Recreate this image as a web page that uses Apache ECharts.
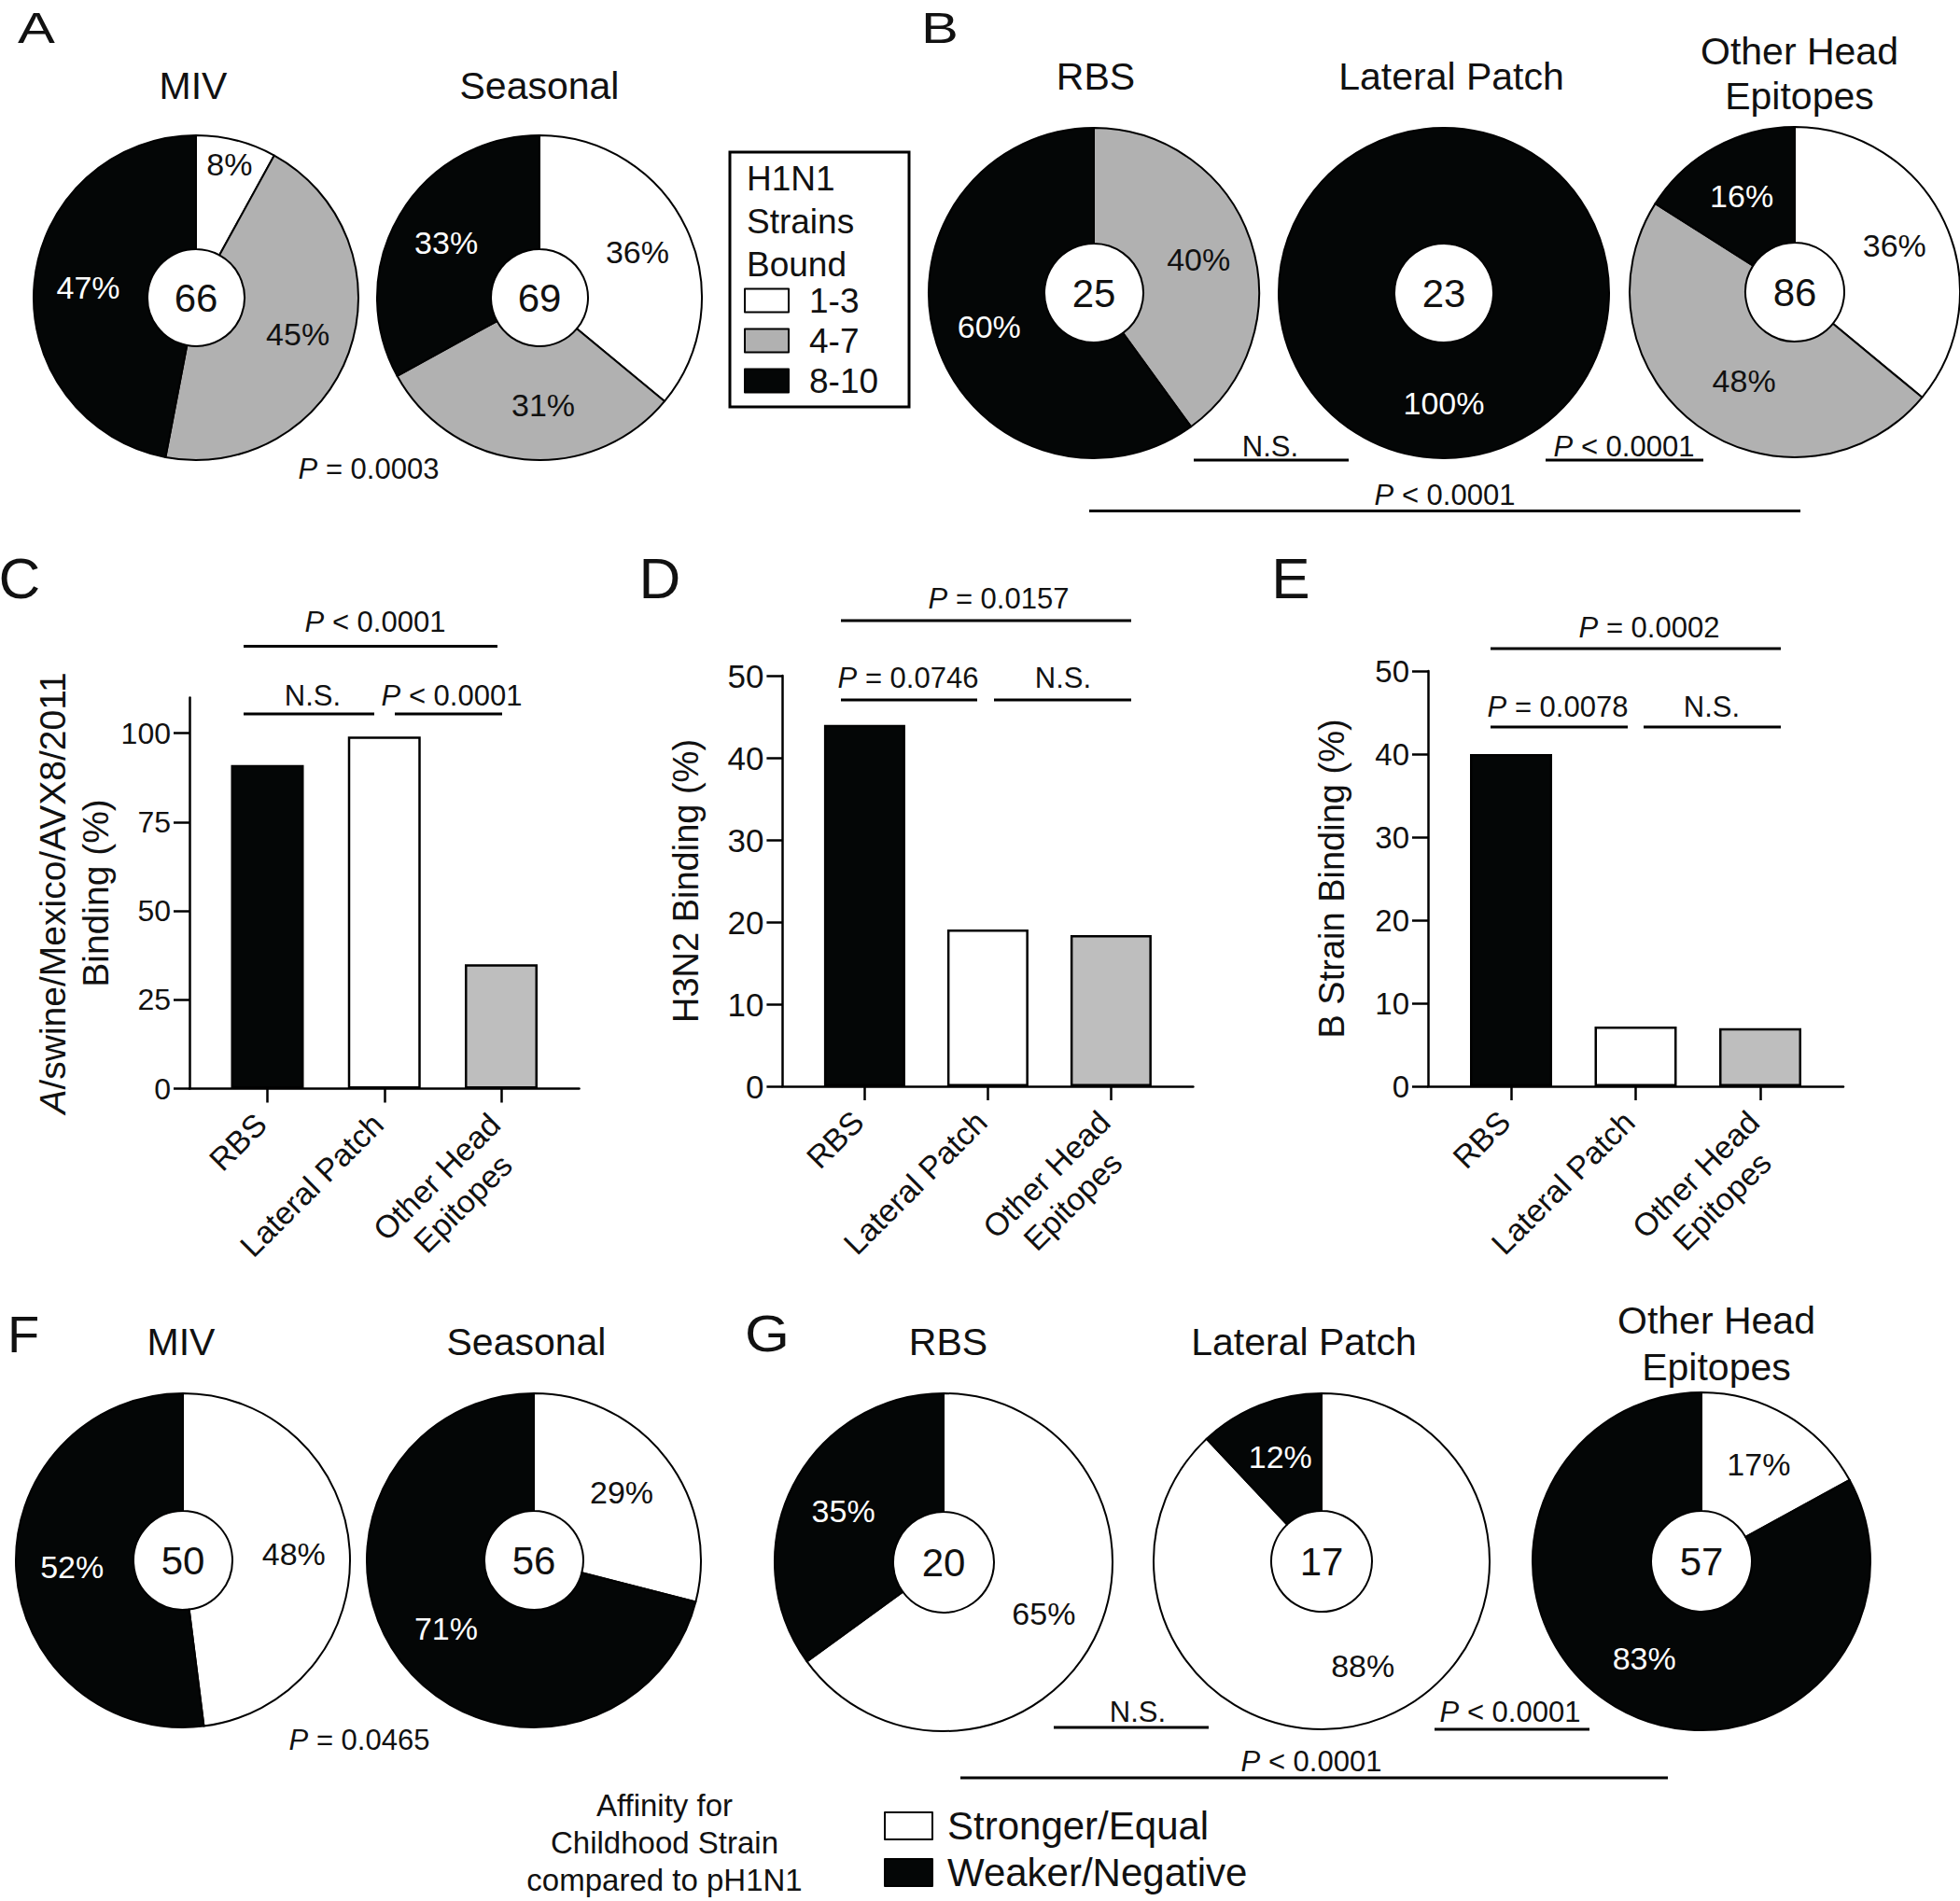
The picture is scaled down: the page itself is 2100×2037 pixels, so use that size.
<!DOCTYPE html>
<html><head><meta charset="utf-8">
<script src="https://cdn.jsdelivr.net/npm/echarts@6/dist/echarts.min.js"></script>
<style>html,body{margin:0;padding:0;background:#fff}#c{width:2100px;height:2037px}</style>
</head><body><div id="c"></div>
<script>
// ---------------- data ----------------
const strainBins = ['1-3', '4-7', '8-10'];
const panelATitles = ['MIV', 'Seasonal'];
const panelAN = [66, 69];
const panelAMIV = [8, 45, 47];
const panelASeasonal = [36, 31, 33];
const panelAPval = 'P = 0.0003';

const panelBTitles = ['RBS', 'Lateral Patch', 'Other Head\nEpitopes'];
const panelBN = [25, 23, 86];
const panelBRBS = [0, 40, 60];
const panelBLateral = [0, 0, 100];
const panelBOther = [36, 48, 16];

const affinityCats = ['Stronger/Equal', 'Weaker/Negative'];
const panelFTitles = ['MIV', 'Seasonal'];
const panelFN = [50, 56];
const panelFMIV = [48, 52];
const panelFSeasonal = [29, 71];
const panelFPval = 'P = 0.0465';

const panelGTitles = ['RBS', 'Lateral Patch', 'Other Head\nEpitopes'];
const panelGN = [20, 17, 57];
const panelGRBS = [65, 35];
const panelGLateral = [88, 12];
const panelGOther = [17, 83];

const barCategories = ['RBS', 'Lateral Patch', 'Other Head\nEpitopes'];
const swineBinding = [91, 99, 35];
const h3n2Binding = [44, 19.1, 18.4];
const bStrainBinding = [40, 7.2, 7.0];
const swineTicks = [0, 25, 50, 75, 100];
const h3n2Ticks = [0, 10, 20, 30, 40, 50];
const bStrainTicks = [0, 10, 20, 30, 40, 50];
const barYNames = ['{i|A}/swine/Mexico/AVX8/2011\nBinding (%)', 'H3N2 Binding (%)', 'B Strain Binding (%)'];

// ---------------- styles / layout ----------------
const FONT = "'Liberation Sans', Arial, Helvetica, sans-serif";
const BLACK = '#040606', WHITE = '#ffffff', PIE_GREY = '#b1b1b1', BAR_GREY = '#bebebe', INK = '#111111';
const strainColors = [WHITE, PIE_GREY, BLACK];
const affinityColors = [WHITE, BLACK];
const barColors = [BLACK, WHITE, BAR_GREY];

// labelOpts: optional per-slice label style tweaks (placement nudges only)
const pies = [
  {pct: panelAMIV, n: panelAN[0], title: panelATitles[0], names: strainBins, colors: strainColors, c: [210, 319], r: [52, 174], t: [207, 92], lh: 46,
    labelOpts: {0: {formatter: '{c}%\n ', lineHeight: 62, padding: [0, 0, 0, 14]}}},
  {pct: panelASeasonal, n: panelAN[1], title: panelATitles[1], names: strainBins, colors: strainColors, c: [578, 319], r: [52, 174], t: [578, 92], lh: 46,
    labelOpts: {1: {padding: [0, 0, 0, 30]}}},
  {pct: panelBRBS, n: panelBN[0], title: panelBTitles[0], names: strainBins, colors: strainColors, c: [1172, 314], r: [53, 177], t: [1174, 82], lh: 46},
  {pct: panelBLateral, n: panelBN[1], title: panelBTitles[1], names: strainBins, colors: strainColors, c: [1547, 314], r: [53, 177], t: [1555, 82], lh: 46},
  {pct: panelBOther, n: panelBN[2], title: panelBTitles[2], names: strainBins, colors: strainColors, c: [1923, 313], r: [53, 177], t: [1928, 79], lh: 48,
    labelOpts: {1: {padding: [0, 0, 0, 30]}}},
  {pct: panelFMIV, n: panelFN[0], title: panelFTitles[0], names: affinityCats, colors: affinityColors, c: [196, 1672], r: [53, 179], t: [194, 1438], lh: 50},
  {pct: panelFSeasonal, n: panelFN[1], title: panelFTitles[1], names: affinityCats, colors: affinityColors, c: [572, 1672], r: [53, 179], t: [564, 1438], lh: 50},
  {pct: panelGRBS, n: panelGN[0], title: panelGTitles[0], names: affinityCats, colors: affinityColors, c: [1011, 1674], r: [54, 181], t: [1016, 1438], lh: 50},
  {pct: panelGLateral, n: panelGN[1], title: panelGTitles[1], names: affinityCats, colors: affinityColors, c: [1416, 1673], r: [54, 180], t: [1397, 1438], lh: 50},
  {pct: panelGOther, n: panelGN[2], title: panelGTitles[2], names: affinityCats, colors: affinityColors, c: [1823, 1673], r: [54, 181], t: [1839, 1440], lh: 50}
];

const bars = [
  {vals: swineBinding, ticks: swineTicks, name: barYNames[0], left: 203, top: 747.4, width: 417.5, height: 419.1, max: 110, barWidth: 78, tickFont: 32, nameGap: 71, nameFont: 39},
  {vals: h3n2Binding, ticks: h3n2Ticks, name: barYNames[1], left: 838.4, top: 724, width: 440, height: 440, max: 50, barWidth: 87, tickFont: 35, nameGap: 80, nameFont: 38},
  {vals: bStrainBinding, ticks: bStrainTicks, name: barYNames[2], left: 1530, top: 719, width: 445, height: 445, max: 50, barWidth: 88, tickFont: 33, nameGap: 80, nameFont: 38}
];

// [text, textX, textY, lineX1, lineX2, lineY]
const sigMarks = [
  [panelAPval, 395, 502],
  ['N.S.', 1361, 478, 1279, 1445, 493],
  ['P < 0.0001', 1740, 478, 1656, 1825, 493],
  ['P < 0.0001', 1548, 530, 1167, 1929, 547.5],
  ['P < 0.0001', 402, 666, 261, 533, 692.5],
  ['N.S.', 335, 745, 261, 401, 765],
  ['P < 0.0001', 484, 745, 423, 538, 765],
  ['P = 0.0157', 1070, 641, 901, 1212, 665],
  ['P = 0.0746', 973, 726, 901, 1047, 750],
  ['N.S.', 1139, 726, 1065, 1212, 750],
  ['P = 0.0002', 1767, 672, 1597, 1908, 695],
  ['P = 0.0078', 1669, 757, 1597, 1744, 779],
  ['N.S.', 1834, 757, 1761, 1908, 779],
  [panelFPval, 385, 1864],
  ['N.S.', 1219, 1834, 1129, 1295, 1851],
  ['P < 0.0001', 1618, 1834, 1537, 1703, 1853],
  ['P < 0.0001', 1405, 1887, 1029, 1787, 1905]
];

// [letter, x, y, fontSize, scaleX]
const panelLetters = [
  ['A', 39, 30, 46, 1.3], ['B', 1007, 30, 46, 1.3],
  ['C', 21, 619, 62, 1], ['D', 707, 619, 62, 1], ['E', 1383, 619, 62, 1],
  ['F', 25, 1429, 56, 1], ['G', 822, 1428, 56, 1.1]
];

// ---------------- build ----------------
const series = [];
const graphics = [];

pies.forEach(p => {
  series.push({
    type: 'pie', center: p.c, radius: p.r, startAngle: 90, clockwise: true,
    silent: true, animation: false, avoidLabelOverlap: false,
    itemStyle: {borderColor: '#000', borderWidth: 2},
    label: {show: true, position: 'inside', formatter: '{c}%', fontSize: 34, fontFamily: FONT, textBorderWidth: 0},
    labelLine: {show: false},
    emphasis: {disabled: true},
    data: p.pct.map((v, i) => {
      const lab = Object.assign({color: p.colors[i] === BLACK ? '#ffffff' : INK}, (p.labelOpts && p.labelOpts[i]) || {});
      return {value: v, name: p.names[i], itemStyle: {color: p.colors[i]}, label: lab};
    }).filter(d => d.value > 0)
  });
  graphics.push({type: 'text', x: p.c[0], y: p.c[1], z: 100,
    style: {text: String(p.n), fontSize: 42, fontFamily: FONT, fill: INK, textAlign: 'center', textVerticalAlign: 'middle'}});
  graphics.push({type: 'text', x: p.t[0], y: p.t[1], z: 100,
    style: {text: p.title, fontSize: 41, lineHeight: p.lh, fontFamily: FONT, fill: INK, textAlign: 'center', textVerticalAlign: 'middle'}});
});

const grids = [], xAxes = [], yAxes = [];
const axisLineStyle = {color: '#000', width: 2.5};
const catRich = {
  a: {fontSize: 34, lineHeight: 40, fontFamily: FONT, color: INK, padding: [0, 30, 0, 0]},
  b: {fontSize: 34, lineHeight: 40, fontFamily: FONT, color: INK, padding: [0, 52, 0, 0]}
};
function catLabel(v) {
  const name = barCategories[Math.round(v)] || '';
  const lines = name.split('\n');
  if (lines.length > 1) return '{a|' + lines[0] + '}\n{b|' + lines[1] + '}';
  return '{a|' + name + '}';
}
bars.forEach((b, i) => {
  grids.push({left: b.left, top: b.top, width: b.width, height: b.height, containLabel: false});
  xAxes.push({
    type: 'value', gridIndex: i, min: -2 / 3, max: 8 / 3,
    splitLine: {show: false},
    axisLine: {show: true, onZero: false, lineStyle: axisLineStyle},
    axisTick: {show: true, customValues: [0, 1, 2], length: 15, lineStyle: axisLineStyle},
    axisLabel: {show: true, customValues: [0, 1, 2], rotate: 45, margin: -3, formatter: catLabel,
      align: 'right', verticalAlign: 'top',
      fontSize: 34, fontFamily: FONT, color: INK, rich: catRich}
  });
  yAxes.push({
    type: 'value', gridIndex: i, min: 0, max: b.max,
    splitLine: {show: false},
    axisLine: {show: true, onZero: false, lineStyle: axisLineStyle},
    axisTick: {show: true, customValues: b.ticks, length: 17, lineStyle: axisLineStyle},
    axisLabel: {show: true, customValues: b.ticks, margin: 20, fontSize: b.tickFont, fontFamily: FONT, color: INK},
    name: b.name, nameLocation: 'middle', nameRotate: 90, nameGap: b.nameGap,
    nameTextStyle: {fontSize: b.nameFont, lineHeight: 46, fontFamily: FONT, color: INK,
      rich: {i: {fontSize: b.nameFont, lineHeight: 46, fontFamily: FONT, color: INK, fontStyle: 'italic'}}}
  });
  series.push({
    type: 'bar', xAxisIndex: i, yAxisIndex: i, barWidth: b.barWidth, silent: true, animation: false,
    itemStyle: {borderColor: '#000', borderWidth: 2.5},
    data: b.vals.map((v, k) => ({value: [k, v], itemStyle: {color: barColors[k]}}))
  });
});

sigMarks.forEach(m => {
  const s = m[0];
  const txt = s.charAt(0) === 'P' ? '{i|P}{n|' + s.slice(1) + '}' : '{n|' + s + '}';
  graphics.push({type: 'text', x: m[1], y: m[2], z: 100, style: {
    text: txt, textAlign: 'center', textVerticalAlign: 'middle',
    rich: {
      i: {fontSize: 31, fontFamily: FONT, fontStyle: 'italic', fill: INK},
      n: {fontSize: 31, fontFamily: FONT, fill: INK}
    }}});
  if (m.length > 3) {
    graphics.push({type: 'line', z: 100, shape: {x1: m[3], y1: m[5], x2: m[4], y2: m[5]}, style: {stroke: '#000', lineWidth: 3}});
  }
});

panelLetters.forEach(l => {
  graphics.push({type: 'text', x: l[1], y: l[2], z: 100, scaleX: l[4],
    style: {text: l[0], fontSize: l[3], fontFamily: FONT, fill: INK, textAlign: 'center', textVerticalAlign: 'middle'}});
});

// legend box + titles
graphics.push({type: 'rect', z: 100, shape: {x: 782, y: 163, width: 192, height: 273}, style: {fill: 'none', stroke: '#000', lineWidth: 3}});
graphics.push({type: 'text', x: 800, y: 237, z: 100,
  style: {text: 'H1N1\nStrains\nBound', fontSize: 37, lineHeight: 46, fontFamily: FONT, fill: INK, textAlign: 'left', textVerticalAlign: 'middle'}});
graphics.push({type: 'text', x: 712, y: 1974, z: 100,
  style: {text: 'Affinity for\nChildhood Strain\ncompared to pH1N1', fontSize: 33, lineHeight: 40, fontFamily: FONT, fill: INK, textAlign: 'center', textVerticalAlign: 'middle'}});

const chart = echarts.init(document.getElementById('c'), null, {renderer: 'svg', width: 2100, height: 2037});
chart.setOption({
  animation: false,
  backgroundColor: '#ffffff',
  grid: grids,
  xAxis: xAxes,
  yAxis: yAxes,
  legend: [
    {data: strainBins, orient: 'vertical', left: 797, top: 303.5, padding: 0, itemWidth: 47, itemHeight: 25, itemGap: 6,
      icon: 'rect', selectedMode: false,
      textStyle: {fontSize: 37, fontFamily: FONT, color: INK, lineHeight: 25, padding: [0, 0, 0, 17]}},
    {data: affinityCats, orient: 'vertical', left: 947, top: 1935.5, height: 98, padding: 0, itemWidth: 51, itemHeight: 29, itemGap: 8,
      icon: 'rect', selectedMode: false,
      textStyle: {fontSize: 42, fontFamily: FONT, color: INK, lineHeight: 29, padding: [0, 0, 0, 11]}}
  ],
  series: series,
  graphic: {elements: graphics}
});
</script>
</body></html>
